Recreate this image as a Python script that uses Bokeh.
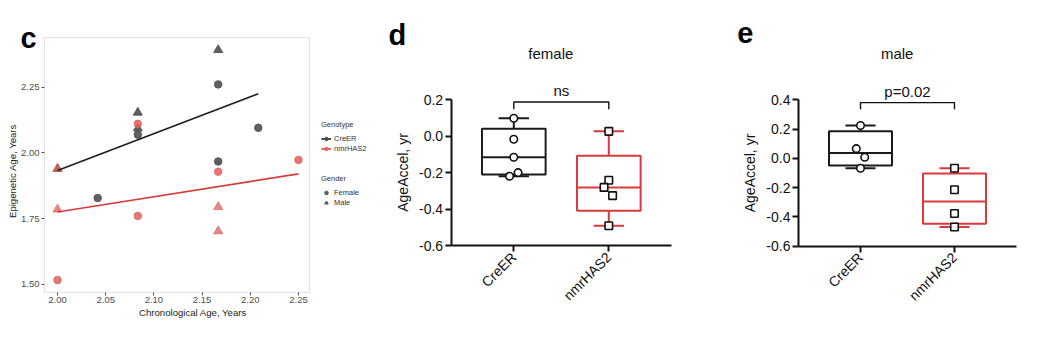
import numpy as np
from math import pi
from bokeh.plotting import figure
from bokeh.layouts import row
from bokeh.models import (Range1d, FixedTicker, NumeralTickFormatter, Label,
                          Legend, LegendItem, BoxAnnotation)
from bokeh.embed import file_html
from bokeh.resources import INLINE

FONT = "Liberation Sans"

# ---------------- Panel c data (chronological vs epigenetic age) ----------------
creer_f_age = [2.1667, 2.0833, 2.2083, 2.1667, 2.0417]
creer_f_epi = [2.260, 2.069, 2.095, 1.967, 1.828]
creer_m_age = [2.1667, 2.0833, 2.0833, 2.0]
creer_m_epi = [2.391, 2.153, 2.093, 1.939]
nmr_f_age = [2.0833, 2.1667, 2.25, 2.0833, 2.0]
nmr_f_epi = [2.110, 1.928, 1.973, 1.760, 1.516]
nmr_m_age = [2.0, 2.0, 2.1667, 2.1667]
nmr_m_epi = [1.785, 1.939, 1.794, 1.702]
c_x_ticks = [2.00, 2.05, 2.10, 2.15, 2.20, 2.25]
c_y_ticks = [1.50, 1.75, 2.00, 2.25]

# ---------------- Panels d / e data (AgeAccel) ----------------
groups = ["CreER", "nmrHAS2"]
female_creer = [0.099, -0.016, -0.115, -0.219, -0.199]
female_creer_jit = [0.0, 0.0, 0.0, -0.045, 0.045]
female_nmr = [0.027, -0.241, -0.280, -0.325, -0.490]
female_nmr_jit = [0.0, 0.0, -0.05, 0.04, 0.0]
male_creer = [0.224, 0.066, 0.007, -0.068]
male_creer_jit = [0.0, -0.045, 0.045, 0.0]
male_nmr = [-0.068, -0.215, -0.377, -0.470]
male_nmr_jit = [0.0, 0.0, 0.0, 0.0]
female_ticks = [-0.6, -0.4, -0.2, 0.0, 0.2]
male_ticks = [-0.6, -0.4, -0.2, 0.0, 0.2, 0.4]

DARK = "#505050"
RED = "#e25f5f"


def bare_figure(width, xr, yr):
    p = figure(width=width, height=341, output_backend="svg", toolbar_location=None,
               title=None, x_range=Range1d(*xr), y_range=Range1d(*yr), min_border=0)
    p.xgrid.visible = False
    p.ygrid.visible = False
    p.outline_line_color = None
    p.background_fill_color = "white"
    return p


# ======================= Panel c =======================
c_box = (1.9865, 2.2614, 1.469, 2.438)   # plotting panel: left, right, bottom, top
pc = bare_figure(385, (1.94087, 2.34025), (1.28251, 2.57909))
pc.add_layout(BoxAnnotation(left=c_box[0], right=c_box[1], bottom=c_box[2], top=c_box[3],
                            fill_color=None, fill_alpha=0, line_color="#a8a8a8",
                            line_width=1.2, level="underlay"))
for ax in (pc.xaxis[0], pc.yaxis[0]):
    ax.axis_line_color = None
    ax.major_tick_line_color = "#555555"
    ax.major_tick_out = 3
    ax.major_tick_in = 0
    ax.minor_tick_line_color = None
    ax.major_label_text_font = FONT
    ax.major_label_text_font_size = "9.5px"
    ax.major_label_text_color = "#4d4d4d"
    ax.major_label_standoff = 2
    ax.axis_label_text_font = FONT
    ax.axis_label_text_font_size = "9.6px"
    ax.axis_label_text_font_style = "normal"
    ax.axis_label_text_color = "#222222"
    ax.axis_label_standoff = 0
    ax.formatter = NumeralTickFormatter(format="0.00")
pc.xaxis.ticker = FixedTicker(ticks=c_x_ticks)
pc.yaxis.ticker = FixedTicker(ticks=c_y_ticks)
pc.xaxis.fixed_location = c_box[2]
pc.yaxis.fixed_location = c_box[0]
pc.xaxis.axis_label = "Chronological Age, Years"
pc.yaxis.axis_label = "Epigenetic Age, Years"


def fit_line(xs, ys):
    k, b = np.polyfit(xs, ys, 1)
    x0, x1 = min(xs), max(xs)
    return [x0, x1], [k * x0 + b, k * x1 + b]


fcx, fcy = fit_line(creer_f_age + creer_m_age, creer_f_epi + creer_m_epi)
fnx, fny = fit_line(nmr_f_age + nmr_m_age, nmr_f_epi + nmr_m_epi)

r_cf = pc.scatter(creer_f_age, creer_f_epi, marker="circle", size=7.5, color=DARK, alpha=0.9)
r_cm = pc.scatter(creer_m_age, creer_m_epi, marker="triangle", size=9, color=DARK, alpha=0.9)
r_nf = pc.scatter(nmr_f_age, nmr_f_epi, marker="circle", size=7.5, color=RED, alpha=0.85)
r_nm = pc.scatter(nmr_m_age, nmr_m_epi, marker="triangle", size=9, color=RED, alpha=0.75)
l_c = pc.line(fcx, fcy, line_color="#1e1e1e", line_width=1.6)
l_n = pc.line(fnx, fny, line_color="#d63c3c", line_width=1.6)


def style_legend(leg):
    leg.title_text_font = FONT
    leg.title_text_font_size = "7.5px"
    leg.title_text_font_style = "normal"
    leg.title_text_color = "#333333"
    leg.label_text_font = FONT
    leg.label_text_font_size = "7.5px"
    leg.label_text_color = "#333333"
    leg.glyph_width = 10
    leg.glyph_height = 9
    leg.label_height = 8
    leg.label_width = 20
    leg.label_standoff = 3
    leg.spacing = 1
    leg.padding = 0
    leg.margin = 0
    leg.title_standoff = 5
    leg.border_line_color = None
    leg.background_fill_alpha = 0


leg1 = Legend(items=[LegendItem(label="CreER", renderers=[l_c, r_cf]),
                     LegendItem(label="nmrHAS2", renderers=[l_n, r_nf])],
              title="Genotype", location=(321, 188))
leg2 = Legend(items=[LegendItem(label="Female", renderers=[r_cf]),
                     LegendItem(label="Male", renderers=[r_cm])],
              title="Gender", location=(321, 134))
style_legend(leg1)
style_legend(leg2)
pc.add_layout(leg1)
pc.add_layout(leg2)

pc.add_layout(Label(x=1.9616, y=2.435, text="c", text_font=FONT, text_font_size="29px",
                    text_font_style="bold", text_color="black", text_baseline="alphabetic"))


# ======================= Box panels =======================
def quartiles(v):
    a = np.asarray(v, dtype=float)
    q1, med, q3 = np.percentile(a, [25, 50, 75], method="weibull")
    return q1, med, q3, a.min(), a.max()


def box_panel(width, xr, yr, ticks, vals, jits, title, sig, br_top, br_drop,
              letter, letter_xy, title_y, sig_y):
    p = bare_figure(width, xr, yr)
    for ax in (p.xaxis[0], p.yaxis[0]):
        ax.axis_line_width = 2
        ax.axis_line_color = "#111111"
        ax.major_tick_line_width = 2
        ax.major_tick_line_color = "#111111"
        ax.major_tick_out = 6
        ax.major_tick_in = 0
        ax.minor_tick_line_color = None
        ax.major_label_text_font = FONT
        ax.major_label_text_font_size = "14px"
        ax.major_label_text_color = "#111111"
        ax.axis_label_text_font = FONT
        ax.axis_label_text_font_size = "14px"
        ax.axis_label_text_font_style = "normal"
        ax.axis_label_text_color = "#111111"
    p.yaxis.ticker = FixedTicker(ticks=ticks)
    p.yaxis.formatter = NumeralTickFormatter(format="0.0")
    p.yaxis.bounds = (ticks[0], ticks[-1])
    p.yaxis.fixed_location = -0.66
    p.yaxis.major_label_standoff = 2
    p.yaxis.axis_label = "AgeAccel, yr"
    p.yaxis.axis_label_standoff = 5
    p.xaxis.ticker = FixedTicker(ticks=[0, 1])
    p.xaxis.major_label_overrides = {0: groups[0], 1: groups[1]}
    p.xaxis.major_label_orientation = pi / 4
    p.xaxis.major_label_standoff = 3
    p.xaxis.bounds = (-0.66, 1.66)
    p.xaxis.fixed_location = ticks[0]

    colors = ["#1a1a1a", "#d93a3a"]
    markers = ["circle", "square"]
    hw, cw = 0.335, 0.16
    for i, (v, j) in enumerate(zip(vals, jits)):
        q1, med, q3, lo, hi = quartiles(v)
        col = colors[i]
        p.quad(left=[i - hw], right=[i + hw], top=[q3], bottom=[q1],
               fill_color=None, line_color=col, line_width=2)
        p.segment(x0=[i - hw], x1=[i + hw], y0=[med], y1=[med], line_color=col, line_width=2)
        p.segment(x0=[i, i], x1=[i, i], y0=[q3, q1], y1=[hi, lo], line_color=col, line_width=2)
        p.segment(x0=[i - cw, i - cw], x1=[i + cw, i + cw], y0=[hi, lo], y1=[hi, lo],
                  line_color=col, line_width=2)
        xs = [i + d for d in j]
        p.scatter(xs, v, marker=markers[i], size=7.5, fill_color="white",
                  line_color="#111111", line_width=1.6)

    p.multi_line(xs=[[0, 0, 1, 1]], ys=[[br_drop, br_top, br_top, br_drop]],
                 line_color="#111111", line_width=1.4)
    p.add_layout(Label(x=0.5, y=sig_y, text=sig, text_font=FONT, text_font_size="15px",
                       text_align="center", text_baseline="middle", text_color="#111111"))
    p.add_layout(Label(x=0.39, y=title_y, text=title, text_font=FONT, text_font_size="15px",
                       text_align="center", text_baseline="middle", text_color="#111111"))
    p.add_layout(Label(x=letter_xy[0], y=letter_xy[1], text=letter, text_font=FONT,
                       text_font_size="29px", text_font_style="bold", text_color="black",
                       text_baseline="alphabetic"))
    return p


pd_ = box_panel(345, (-1.3505, 2.2811), (-1.1244, 0.7441), female_ticks,
                [female_creer, female_nmr], [female_creer_jit, female_nmr_jit],
                "female", "ns", 0.188, 0.148, "d", (-1.32, 0.555), 0.452, 0.251)
pe_ = box_panel(323, (-1.383, 2.0532), (-1.2527, 1.079), male_ticks,
                [male_creer, male_nmr], [male_creer_jit, male_nmr_jit],
                "male", "p=0.02", 0.381, 0.336, "e", (-1.31, 0.855), 0.715, 0.455)

layout = row(pc, pd_, pe_, spacing=0)
open("out.html", "w").write(file_html(layout, INLINE))
